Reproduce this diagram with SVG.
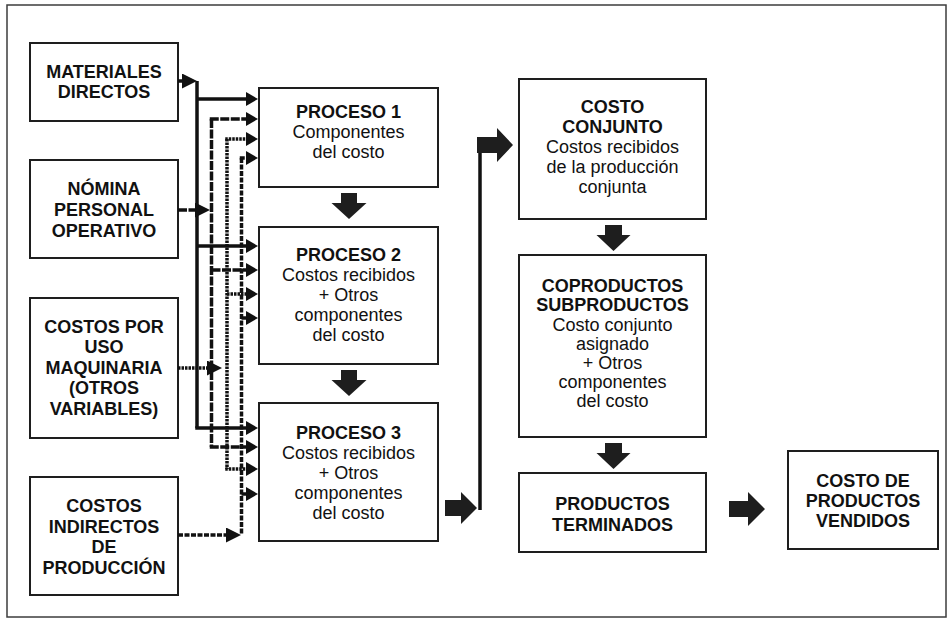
<svg xmlns="http://www.w3.org/2000/svg" width="952" height="623" viewBox="0 0 952 623">
  <defs>
    <style>
      .box { fill: #ffffff; stroke: #1e1e1e; stroke-width: 2; }
      .frame { fill: #ffffff; stroke: #3c3c3c; stroke-width: 1.5; }
      text { font-family: "Liberation Sans", Arial, sans-serif; font-size: 18px; fill: #111111; text-anchor: middle; }
      .b { font-weight: bold; }
      .ln { fill: none; stroke: #111111; stroke-width: 3.5; stroke-linecap: butt; }
      .solid { stroke-width: 3.5; }
      .d2 { stroke-dasharray: 9 1.5; }
      .d3 { stroke-dasharray: 2.5 1; }
      .d4 { stroke-dasharray: 5 1.5; }
      .block { fill: #1e1e1e; }
    </style>
    <!-- arrowhead for branches entering the process boxes -->
    <marker id="headOut" markerUnits="userSpaceOnUse" viewBox="0 -7 12 14" refX="0" refY="0" markerWidth="12" markerHeight="14" orient="auto">
      <path d="M0,-7 L12,0 L0,7 z" fill="#111111"/>
    </marker>
    <!-- arrowhead for cost inputs joining a bus -->
    <marker id="headIn" markerUnits="userSpaceOnUse" viewBox="0 -7.5 15 15" refX="0" refY="0" markerWidth="15" markerHeight="15" orient="auto">
      <path d="M0,-7.5 L15,0 L0,7.5 z" fill="#111111"/>
    </marker>
  </defs>

  <rect width="952" height="623" fill="#ffffff"/>
  <rect class="frame" x="7" y="5" width="939" height="612"/>

  <!-- cost input boxes -->
  <g id="n-materiales">
    <rect class="box" x="30" y="43" width="148" height="78"/>
    <text class="b" x="104" y="78">MATERIALES</text>
    <text class="b" x="104" y="98">DIRECTOS</text>
  </g>
  <g id="n-nomina">
    <rect class="box" x="30" y="160" width="148" height="98"/>
    <text class="b" x="104" y="195">NÓMINA</text>
    <text class="b" x="104" y="216">PERSONAL</text>
    <text class="b" x="104" y="237">OPERATIVO</text>
  </g>
  <g id="n-maquinaria">
    <rect class="box" x="30" y="298" width="148" height="140"/>
    <text class="b" x="104" y="332.5">COSTOS POR</text>
    <text class="b" x="104" y="353">USO</text>
    <text class="b" x="104" y="373.5">MAQUINARIA</text>
    <text class="b" x="104" y="394">(OTROS</text>
    <text class="b" x="104" y="414.5">VARIABLES)</text>
  </g>
  <g id="n-indirectos">
    <rect class="box" x="30" y="477" width="148" height="118"/>
    <text class="b" x="104" y="512">COSTOS</text>
    <text class="b" x="104" y="532.5">INDIRECTOS</text>
    <text class="b" x="104" y="553">DE</text>
    <text class="b" x="104" y="573.5">PRODUCCIÓN</text>
  </g>

  <!-- process boxes -->
  <g id="n-proceso1">
    <rect class="box" x="259" y="88" width="179" height="99"/>
    <text class="b" x="348.5" y="118">PROCESO 1</text>
    <text x="348.5" y="138">Componentes</text>
    <text x="348.5" y="158">del costo</text>
  </g>
  <g id="n-proceso2">
    <rect class="box" x="259" y="227" width="179" height="137"/>
    <text class="b" x="348.5" y="261">PROCESO 2</text>
    <text x="348.5" y="281">Costos recibidos</text>
    <text x="348.5" y="301">+ Otros</text>
    <text x="348.5" y="321">componentes</text>
    <text x="348.5" y="341">del costo</text>
  </g>
  <g id="n-proceso3">
    <rect class="box" x="259" y="403" width="179" height="138"/>
    <text class="b" x="348.5" y="439">PROCESO 3</text>
    <text x="348.5" y="459">Costos recibidos</text>
    <text x="348.5" y="479">+ Otros</text>
    <text x="348.5" y="499">componentes</text>
    <text x="348.5" y="519">del costo</text>
  </g>

  <!-- joint cost chain -->
  <g id="n-conjunto">
    <rect class="box" x="519" y="79" width="187" height="140"/>
    <text class="b" x="612.5" y="113">COSTO</text>
    <text class="b" x="612.5" y="133">CONJUNTO</text>
    <text x="612.5" y="153">Costos recibidos</text>
    <text x="612.5" y="173">de la producción</text>
    <text x="612.5" y="193">conjunta</text>
  </g>
  <g id="n-coproductos">
    <rect class="box" x="519" y="255" width="187" height="182"/>
    <text class="b" x="612.5" y="292">COPRODUCTOS</text>
    <text class="b" x="612.5" y="311">SUBPRODUCTOS</text>
    <text x="612.5" y="330.5">Costo conjunto</text>
    <text x="612.5" y="349.5">asignado</text>
    <text x="612.5" y="369">+ Otros</text>
    <text x="612.5" y="388">componentes</text>
    <text x="612.5" y="407">del costo</text>
  </g>
  <g id="n-terminados">
    <rect class="box" x="519" y="473" width="187" height="79"/>
    <text class="b" x="612.5" y="510">PRODUCTOS</text>
    <text class="b" x="612.5" y="531">TERMINADOS</text>
  </g>
  <g id="n-vendidos">
    <rect class="box" x="788" y="451" width="150" height="98"/>
    <text class="b" x="863" y="487">COSTO DE</text>
    <text class="b" x="863" y="507">PRODUCTOS</text>
    <text class="b" x="863" y="527">VENDIDOS</text>
  </g>

  <g id="connectors">
    <!-- direct materials bus (solid) -->
    <path class="ln solid" d="M197,81 V428"/>
    <path class="ln solid" d="M178,81 H182" marker-end="url(#headIn)"/>
    <path class="ln solid" d="M197,99 H246" marker-end="url(#headOut)"/>
    <path class="ln solid" d="M197,246 H246" marker-end="url(#headOut)"/>
    <path class="ln solid" d="M195.25,428 H246" marker-end="url(#headOut)"/>

    <!-- payroll bus (long dash) -->
    <path class="ln d2" d="M211.5,119 V447"/>
    <path class="ln d2" d="M178,210 H195" marker-end="url(#headIn)"/>
    <path class="ln d2" d="M209.75,119 H246" marker-end="url(#headOut)"/>
    <path class="ln d2" d="M211.5,270 H246" marker-end="url(#headOut)"/>
    <path class="ln d2" d="M209.75,447 H246" marker-end="url(#headOut)"/>

    <!-- machinery bus (dotted) -->
    <path class="ln d3" d="M227,139 V469"/>
    <path class="ln d3" d="M178,368 H207" marker-end="url(#headIn)"/>
    <path class="ln d3" d="M225.25,139 H246" marker-end="url(#headOut)"/>
    <path class="ln d3" d="M227,294 H246" marker-end="url(#headOut)"/>
    <path class="ln d3" d="M225.25,469 H246" marker-end="url(#headOut)"/>

    <!-- indirect costs bus (short dash) -->
    <path class="ln d4" d="M241.5,158 V535"/>
    <path class="ln d4" d="M178,535 H226" marker-end="url(#headIn)"/>
    <path class="ln d4" d="M239.75,158 H246" marker-end="url(#headOut)"/>
    <path class="ln d4" d="M241.5,318 H246" marker-end="url(#headOut)"/>
    <path class="ln d4" d="M241.5,494 H246" marker-end="url(#headOut)"/>

    <!-- block arrows between stages -->
    <polygon class="block" points="341,193 357,193 357,203 366.5,203 349,219 331.5,203 341,203"/>
    <polygon class="block" points="341,370 357,370 357,380 366.5,380 349,396 331.5,380 341,380"/>
    <polygon class="block" points="445,500 461,500 461,492 477,508 461,524 461,516 445,516"/>
    <path class="ln solid" d="M480,510 V140"/>
    <polygon class="block" points="477,137 497,137 497,128 513,145 497,162 497,153 477,153"/>
    <polygon class="block" points="605,225 622,225 622,235 630.5,235 613.5,251 596.5,235 605,235"/>
    <polygon class="block" points="605,443 622,443 622,453 630.5,453 613.5,469 596.5,453 605,453"/>
    <polygon class="block" points="729,501 748,501 748,492 765,509 748,526 748,517 729,517"/>
  </g>
</svg>
